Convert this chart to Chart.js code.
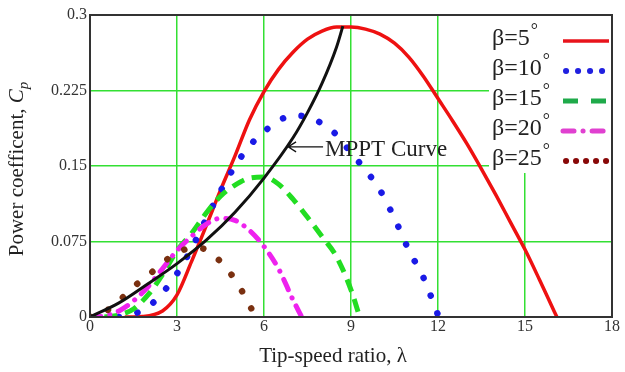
<!DOCTYPE html>
<html><head><meta charset="utf-8">
<script src="https://cdn.jsdelivr.net/npm/chart.js@4"></script>
<style>html,body{margin:0;padding:0;background:#fff;}#wrap{width:625px;height:372px;position:relative;}</style>
</head><body><div id="wrap"><canvas id="c" width="625" height="372"></canvas></div>
<script>
// ---- data ----
const xTickValues = [0, 3, 6, 9, 12, 15, 18];
const xTickLabels = ['0', '3', '6', '9', '12', '15', '18'];
const yTickValues = [0, 0.075, 0.15, 0.225, 0.3];
const yTickLabels = ['0', '0.075', '0.15', '0.225', '0.3'];
const seriesNames = ['β=5', 'β=10', 'β=15', 'β=20', 'β=25'];

const lambda5 = [1.2, 1.8, 2.5, 3, 3.5, 4, 4.5, 5, 5.5, 6, 6.5, 7, 7.5, 8, 8.5, 9, 9.5, 10, 10.5, 11, 11.5, 12, 12.5, 13, 13.5, 14, 14.5, 15, 15.5, 16, 16.1];
const cp5     = [0, 0.0005, 0.006, 0.022, 0.055, 0.09, 0.126, 0.16, 0.196, 0.224, 0.246, 0.263, 0.276, 0.284, 0.288, 0.288, 0.286, 0.281, 0.272, 0.258, 0.239, 0.217, 0.195, 0.172, 0.147, 0.121, 0.094, 0.067, 0.037, 0.006, 0];

const lambda10 = [1.0, 1.5, 2.0, 2.5, 3.0, 3.5, 4.0, 4.5, 5.0, 5.5, 6.0, 6.5, 7.0, 7.5, 8.0, 8.5, 9.0, 9.5, 10.0, 10.5, 11.0, 11.5, 12.0];
const cp10     = [0, 0.003, 0.01, 0.024, 0.043, 0.068, 0.097, 0.125, 0.15, 0.17, 0.184, 0.195, 0.2, 0.199, 0.192, 0.181, 0.163, 0.146, 0.126, 0.098, 0.066, 0.039, 0.002];

const lambda15 = [0.5, 1, 1.5, 2, 2.5, 3, 3.5, 4, 4.5, 5, 5.5, 6, 6.5, 7, 7.5, 8, 8.5, 9, 9.3];
const cp15     = [0, 0.002, 0.008, 0.022, 0.042, 0.066, 0.083, 0.103, 0.12, 0.131, 0.138, 0.139, 0.132, 0.117, 0.099, 0.08, 0.06, 0.027, 0];

const lambda20 = [0, 0.5, 1, 1.5, 2, 2.5, 3, 3.5, 4, 4.5, 5, 5.5, 6, 6.5, 7, 7.3];
const cp20     = [0, 0.001, 0.006, 0.016, 0.03, 0.048, 0.066, 0.08, 0.092, 0.098, 0.096, 0.086, 0.07, 0.048, 0.017, 0];

const lambda25 = [0, 0.5, 1, 1.5, 2, 2.5, 3, 3.5, 4, 4.5, 5, 5.5, 5.7];
const cp25     = [0, 0.005, 0.016, 0.03, 0.041, 0.054, 0.063, 0.069, 0.067, 0.055, 0.037, 0.012, 0];

const lambdaMPPT = [0, 1, 2, 3, 4, 5, 6, 7, 7.5, 8, 8.5, 8.72];
const cpMPPT     = [0, 0.014, 0.033, 0.053, 0.076, 0.104, 0.138, 0.178, 0.203, 0.232, 0.268, 0.289];

const mpptLabel = 'MPPT Curve';
const mpptArrowAt = [6.83, 0.169];
const xTitle = 'Tip-speed ratio, λ';
const yTitle = 'Power coefficent, ';

// ---- styles ----
const SERIF = '"Liberation Serif", "DejaVu Serif", serif';
const styles = [
  {color: '#ee1111', width: 3.5, dash: [], cap: 'butt', legendColor: '#e8141c'},
  {color: '#1a1ae6', width: 6.5, dash: [0.1, 18.9], cap: 'round', legendColor: '#2020e0'},
  {color: '#22dd22', width: 5, dash: [13, 8], cap: 'butt', legendColor: '#1faa4a'},
  {color: '#ee22ee', width: 5, dash: [11, 9, 0.1, 9], cap: 'round', legendColor: '#e040d0'},
  {color: '#7a3010', width: 6.5, dash: [0.1, 19.4], cap: 'round', legendColor: '#880808'}
];
const pts = (xs, ys) => xs.map((x, i) => ({x: x, y: ys[i]}));
const seriesX = [lambda5, lambda10, lambda15, lambda20, lambda25];
const seriesY = [cp5, cp10, cp15, cp20, cp25];
const orders = [5, 4, 3, 2, 1];

const datasets = seriesNames.map((n, i) => ({
  label: n,
  data: pts(seriesX[i], seriesY[i]),
  borderColor: styles[i].color,
  borderWidth: styles[i].width,
  borderDash: styles[i].dash,
  borderCapStyle: styles[i].cap,
  pointRadius: 0,
  fill: false,
  cubicInterpolationMode: 'monotone',
  order: orders[i]
}));
datasets.push({
  label: 'MPPT',
  data: pts(lambdaMPPT, cpMPPT),
  borderColor: '#111111',
  borderWidth: 3,
  pointRadius: 0,
  fill: false,
  cubicInterpolationMode: 'monotone',
  order: 0
});

const deco = {
  id: 'deco',
  beforeDatasetsDraw(chart) {
    const ctx = chart.ctx, a = chart.chartArea;
    ctx.save();
    ctx.fillStyle = '#ffffff';
    ctx.fillRect(a.right - 123, a.top + 1, 123, 157);
    ctx.restore();
  },
  afterDatasetsDraw(chart) {
    const ctx = chart.ctx, a = chart.chartArea;
    const xs = chart.scales.x, ys = chart.scales.y;
    ctx.save();
    // frame
    ctx.strokeStyle = '#333333';
    ctx.lineWidth = 2;
    ctx.setLineDash([]);
    ctx.strokeRect(a.left, a.top, a.right - a.left, a.bottom - a.top);

    // legend
    const lx = a.right - 120, sx0 = a.right - 49, sx1 = a.right - 3;
    for (let i = 0; i < seriesNames.length; i++) {
      const by = a.top + 30 + 30 * i;
      ctx.fillStyle = '#222222';
      ctx.font = '24px ' + SERIF;
      ctx.textAlign = 'left';
      ctx.textBaseline = 'alphabetic';
      ctx.fillText(seriesNames[i], lx, by);
      const w = ctx.measureText(seriesNames[i]).width;
      ctx.font = '18px ' + SERIF;
      ctx.fillText('°', lx + w + 1, by - 9);
      // sample
      const sy = by - 4;
      const st = styles[i];
      ctx.strokeStyle = st.legendColor;
      ctx.lineWidth = Math.min(st.width, 5);
      ctx.lineCap = st.cap;
      let dash = st.dash;
      if (i === 1) dash = [0.1, 11.9];
      if (i === 2) dash = [15, 13];
      if (i === 3) dash = [11, 9, 0.1, 9];
      if (i === 4) dash = [0.1, 9.9];
      if (i === 1 || i === 4) ctx.lineWidth = 6;
      ctx.setLineDash(dash);
      ctx.beginPath();
      ctx.moveTo(sx0 + (i === 1 || i === 4 ? 3 : 0), sy);
      ctx.lineTo(sx1, sy);
      ctx.stroke();
    }
    ctx.setLineDash([]);
    ctx.lineCap = 'butt';

    // MPPT annotation
    const ax = xs.getPixelForValue(mpptArrowAt[0]);
    const ay = ys.getPixelForValue(mpptArrowAt[1]);
    ctx.strokeStyle = '#111111';
    ctx.lineWidth = 1.3;
    ctx.beginPath();
    ctx.moveTo(ax, ay); ctx.lineTo(ax + 35, ay);
    ctx.moveTo(ax + 8, ay - 5); ctx.lineTo(ax, ay); ctx.lineTo(ax + 8, ay + 5);
    ctx.stroke();
    ctx.fillStyle = '#222222';
    ctx.font = '23px ' + SERIF;
    ctx.textAlign = 'left';
    ctx.fillText(mpptLabel, ax + 37, ay + 9);

    // x title
    ctx.font = '21px ' + SERIF;
    ctx.textAlign = 'center';
    ctx.fillText(xTitle, 333, 362);

    // y title (rotated) with italic C and subscript p
    ctx.translate(23, 169);
    ctx.rotate(-Math.PI / 2);
    ctx.textAlign = 'left';
    ctx.font = '21px ' + SERIF;
    const w1 = ctx.measureText(yTitle).width;
    ctx.font = 'italic 21px ' + SERIF;
    const wC = ctx.measureText('C').width;
    ctx.font = 'italic 15px ' + SERIF;
    const wp = ctx.measureText('p').width;
    let x0 = -(w1 + wC + wp) / 2;
    ctx.font = '21px ' + SERIF;
    ctx.fillText(yTitle, x0, 0);
    ctx.font = 'italic 21px ' + SERIF;
    ctx.fillText('C', x0 + w1, 0);
    ctx.font = 'italic 15px ' + SERIF;
    ctx.fillText('p', x0 + w1 + wC, 5);
    ctx.restore();
  }
};

new Chart(document.getElementById('c'), {
  type: 'line',
  data: {datasets: datasets},
  options: {
    responsive: false,
    devicePixelRatio: 1,
    animation: false,
    events: [],
    layout: {padding: {top: 15, right: 13, left: 0, bottom: 0}},
    plugins: {legend: {display: false}, tooltip: {enabled: false}},
    scales: {
      x: {
        type: 'linear', min: 0, max: 18,
        afterBuildTicks: s => { s.ticks = xTickValues.map(v => ({value: v})); },
        afterFit: s => { s.height = 55; },
        ticks: {callback: (v, i) => xTickLabels[i], color: '#333', font: {family: SERIF, size: 16}, padding: 0, maxRotation: 0},
        grid: {color: '#33e033', lineWidth: 1.5, drawTicks: false},
        border: {display: false}
      },
      y: {
        type: 'linear', min: 0, max: 0.3,
        afterBuildTicks: s => { s.ticks = yTickValues.map(v => ({value: v})); },
        afterFit: s => { s.width = 90; },
        ticks: {callback: (v, i) => yTickLabels[i], color: '#333', font: {family: SERIF, size: 16}, padding: 3},
        grid: {color: '#33e033', lineWidth: 1.5, drawTicks: false},
        border: {display: false}
      }
    }
  },
  plugins: [deco]
});
</script></body></html>
